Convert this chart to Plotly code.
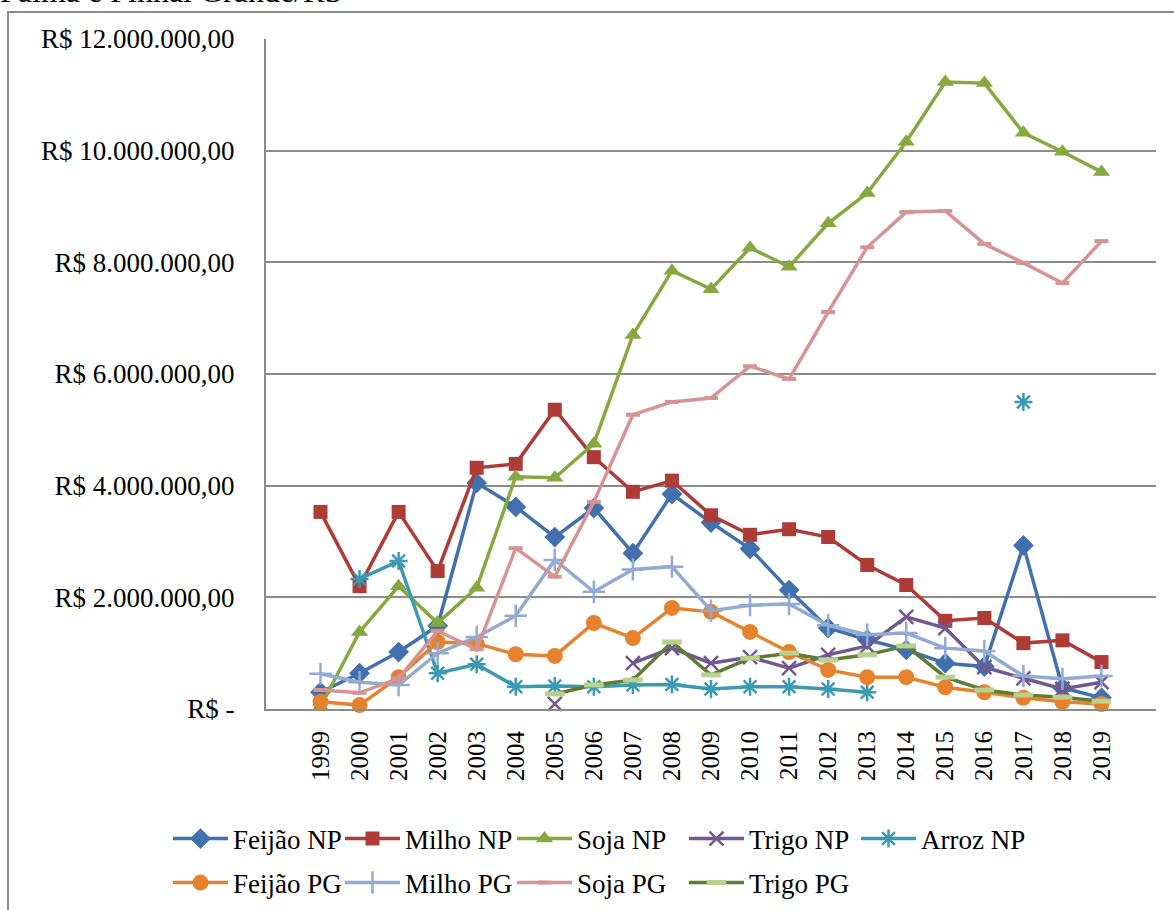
import plotly.graph_objects as go

years = [str(y) for y in range(1999, 2020)]

feijao_np = [0.30, 0.64, 1.02, 1.49, 4.05, 3.62, 3.08, 3.60, 2.79, 3.85, 3.34, 2.87, 2.13, 1.45, 1.24, 1.06, 0.82, 0.76, 2.93, 0.38, 0.20]
milho_np = [3.53, 2.20, 3.53, 2.47, 4.32, 4.39, 5.36, 4.51, 3.89, 4.09, 3.47, 3.12, 3.22, 3.08, 2.58, 2.22, 1.58, 1.63, 1.18, 1.23, 0.84]
soja_np = [0.04, 1.38, 2.20, 1.54, 2.17, 4.16, 4.14, 4.75, 6.70, 7.85, 7.52, 8.26, 7.92, 8.70, 9.24, 10.16, 11.23, 11.21, 10.32, 9.98, 9.62]
trigo_np = [None, None, None, None, None, None, 0.09, None, 0.82, 1.09, 0.82, 0.93, 0.73, 0.97, 1.13, 1.65, 1.45, 0.75, 0.55, 0.36, 0.48]
arroz_np = [None, 2.33, 2.65, 0.64, 0.80, 0.40, 0.41, 0.40, 0.43, 0.44, 0.36, 0.40, 0.40, 0.36, 0.30, None, None, None, 5.50, None, None]
feijao_pg = [0.13, 0.07, 0.57, 1.20, 1.17, 0.98, 0.95, 1.54, 1.27, 1.81, 1.74, 1.38, 1.02, 0.70, 0.57, 0.57, 0.39, 0.30, 0.20, 0.13, 0.09]
milho_pg = [0.63, 0.48, 0.43, 1.00, 1.29, 1.67, 2.67, 2.10, 2.50, 2.55, 1.76, 1.86, 1.88, 1.50, 1.33, 1.36, 1.09, 1.04, 0.59, 0.54, 0.59]
soja_pg = [0.34, 0.29, 0.55, 1.40, 1.07, 2.88, 2.37, 3.71, 5.27, 5.50, 5.57, 6.14, 5.91, 7.11, 8.27, 8.90, 8.92, 8.33, 7.99, 7.63, 8.38]
trigo_pg = [None, None, None, None, None, None, 0.27, 0.43, 0.52, 1.20, 0.61, 0.91, 1.00, 0.88, 0.97, 1.13, 0.57, 0.34, 0.25, 0.21, 0.14]

tick_vals = [0, 2, 4, 6, 8, 10, 12]
tick_text = ["R$ -", "R$ 2.000.000,00", "R$ 4.000.000,00", "R$ 6.000.000,00",
             "R$ 8.000.000,00", "R$ 10.000.000,00", "R$ 12.000.000,00"]

M = 1_000_000
def scale(v):
    return [None if x is None else x * M for x in v]

FONT = "Liberation Serif"

series = [
    ("Feijão NP", feijao_np, "#4070AD", dict(symbol="diamond", size=16, color="#4070AD"), "legend"),
    ("Milho NP", milho_np, "#AE3B38", dict(symbol="square", size=14, color="#AE3B38"), "legend"),
    ("Soja NP", soja_np, "#86A83E", dict(symbol="triangle-up", size=15, color="#86A83E"), "legend"),
    ("Trigo NP", trigo_np, "#71588F", dict(symbol="x-thin-open", size=14, color="#71588F", line=dict(width=2.5, color="#71588F")), "legend"),
    ("Arroz NP", arroz_np, "#3B9AB2", dict(symbol="asterisk-open", size=15, color="#3B9AB2", line=dict(width=2.5, color="#3B9AB2")), "legend"),
    ("Feijão PG", feijao_pg, "#E6822E", dict(symbol="circle", size=16, color="#E6822E"), "legend2"),
    ("Milho PG", milho_pg, "#93AAD3", dict(symbol="cross-thin-open", size=16, color="#93AAD3", line=dict(width=2.5, color="#93AAD3")), "legend2"),
    ("Soja PG", soja_pg, "#D69594", dict(symbol="line-ew-open", size=10, color="#D69594", line=dict(width=4, color="#D69594")), "legend2"),
    ("Trigo PG", trigo_pg, "#5E7D32", dict(symbol="line-ew-open", size=14, color="#B9D08E", line=dict(width=5, color="#B9D08E")), "legend2"),
]

fig = go.Figure()
for name, vals, color, marker, leg in series:
    fig.add_trace(go.Scatter(
        x=years, y=scale(vals), name=name, mode="lines+markers",
        line=dict(color=color, width=3.5), marker=marker,
        cliponaxis=False, legend=leg, connectgaps=False,
    ))

W, H = 1174, 910
L, R, T, B = 266, 18, 39, 201
pw, ph = W - L - R, H - T - B

def px(x):
    return (x - L) / pw

def py(y):
    return (H - B - y) / ph

legend_common = dict(orientation="h", xanchor="left", yanchor="middle",
                     entrywidth=102, itemwidth=55,
                     font=dict(family=FONT, size=27, color="black"),
                     bgcolor="rgba(0,0,0,0)")

fig.update_layout(
    width=W, height=H,
    margin=dict(l=L, r=R, t=T, b=B, autoexpand=False),
    paper_bgcolor="white", plot_bgcolor="white",
    font=dict(family=FONT, size=26, color="black"),
    xaxis=dict(type="category", showgrid=False, showline=True, linecolor="#8C8C8C", linewidth=2,
               tickangle=-90, ticks="", ticklabelstandoff=10, automargin=False,
               tickfont=dict(family=FONT, size=25, color="black")),
    yaxis=dict(range=[0, 12 * M], tickvals=[v * M for v in tick_vals], ticktext=tick_text,
               showgrid=True, gridcolor="#8C8C8C", gridwidth=1.5, zeroline=False, automargin=False,
               showline=True, linecolor="#8C8C8C", linewidth=2, ticks="", ticklabelstandoff=24,
               tickfont=dict(family=FONT, size=27, color="black")),
    legend=dict(x=px(168), y=py(839), **legend_common),
    legend2=dict(x=px(168), y=py(883), **legend_common),
    showlegend=True,
)

# outer chart frame
fig.add_shape(type="rect", xref="paper", yref="paper",
              x0=px(8), x1=px(1190), y0=py(930), y1=py(12),
              line=dict(color="#8C8C8C", width=2), fillcolor="rgba(0,0,0,0)", layer="below")

# partially visible heading above the frame
fig.add_annotation(text="Palma e Pinhal Grande/RS", xref="paper", yref="paper",
                   x=px(344), xanchor="right", y=py(-9), yanchor="middle",
                   showarrow=False, font=dict(family=FONT, size=32, color="black"))

fig.write_html("out.html", config={"displayModeBar": False},
               post_script="document.body.style.margin='0px';")
